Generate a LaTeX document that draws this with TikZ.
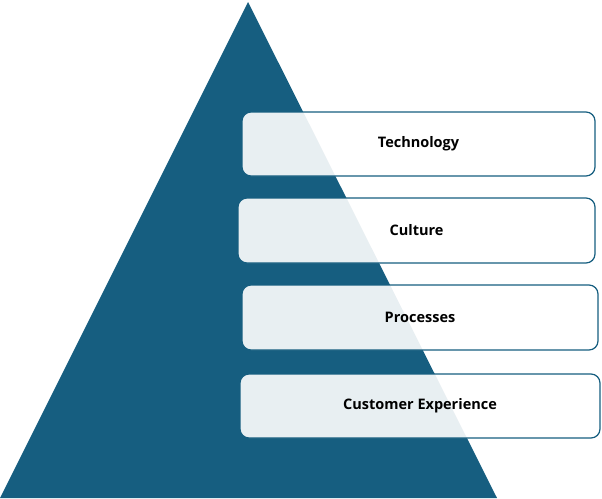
\documentclass[tikz,border=0pt]{standalone}
\usepackage{fontspec}
\setmainfont{Open Sans}
\begin{document}
\begin{tikzpicture}[x=1pt,y=-1pt,
 box/.style={draw=tri,line width=1.2pt,rounded corners=9pt,fill=white,fill opacity=0.9,text opacity=1,font=\bfseries\fontsize{14.5}{16}\selectfont}]
\definecolor{tri}{HTML}{165E80}
\useasboundingbox (0,0) rectangle (602,498);
\fill[tri] (248,2) -- (497,498) -- (0,498) -- cycle;
\node[box,minimum width=353pt,minimum height=64pt] (t) at (418.5,144) {Technology};
\node[box,minimum width=357pt,minimum height=65pt] (c) at (416.5,230.5) {Culture};
\node[box,minimum width=356pt,minimum height=65pt] (p) at (420,317.5) {Processes};
\node[box,minimum width=360pt,minimum height=64pt] (e) at (420,406) {Customer Experience};
\end{tikzpicture}
\end{document}
